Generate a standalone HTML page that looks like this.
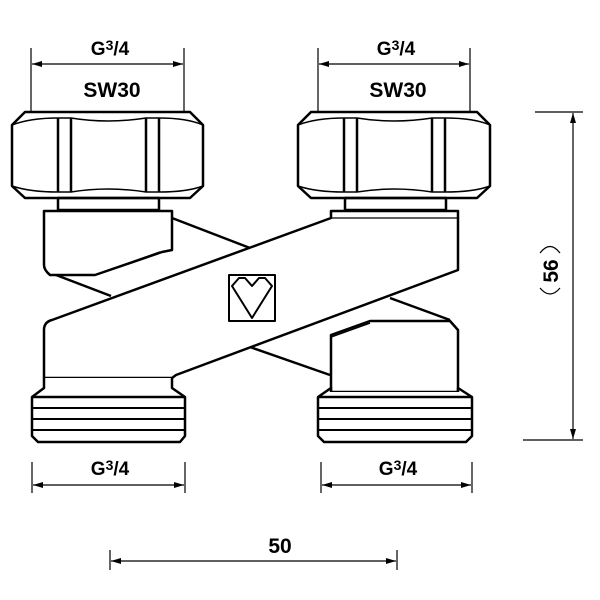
<!DOCTYPE html>
<html><head><style>
html,body{margin:0;padding:0;background:#fff;}
svg{display:block;}
text{font-family:"Liberation Sans",Arial,sans-serif;font-weight:bold;fill:#000;}
</style></head><body>
<svg width="600" height="600" viewBox="0 0 600 600" xmlns="http://www.w3.org/2000/svg">
<defs>
<marker id="a" viewBox="0 0 10 6" refX="10" refY="3" markerWidth="10" markerHeight="6" orient="auto-start-reverse" markerUnits="userSpaceOnUse"><path d="M0,0 L10,3 L0,6 Z" fill="#000"/></marker>
</defs>
<g fill="none" stroke="#000" stroke-width="1.2">
<!-- top dims -->
<line x1="31" y1="48" x2="31" y2="128"/><line x1="184" y1="48" x2="184" y2="128"/>
<line x1="32" y1="64" x2="183" y2="64" marker-start="url(#a)" marker-end="url(#a)"/>
<line x1="318" y1="48" x2="318" y2="128"/><line x1="470" y1="48" x2="470" y2="128"/>
<line x1="319" y1="64" x2="469" y2="64" marker-start="url(#a)" marker-end="url(#a)"/>
<!-- bottom dims -->
<line x1="32" y1="462" x2="32" y2="493"/><line x1="185" y1="462" x2="185" y2="493"/>
<line x1="33" y1="485" x2="184" y2="485" marker-start="url(#a)" marker-end="url(#a)"/>
<line x1="321" y1="462" x2="321" y2="493"/><line x1="472" y1="462" x2="472" y2="493"/>
<line x1="322" y1="485" x2="471" y2="485" marker-start="url(#a)" marker-end="url(#a)"/>
<line x1="110" y1="550" x2="110" y2="570"/><line x1="397" y1="550" x2="397" y2="570"/>
<line x1="111" y1="561" x2="396" y2="561" marker-start="url(#a)" marker-end="url(#a)"/>
<!-- vertical 56 -->
<line x1="535" y1="112" x2="583" y2="112"/><line x1="523" y1="440" x2="583" y2="440"/>
<line x1="573" y1="113" x2="573" y2="439" marker-start="url(#a)" marker-end="url(#a)"/>
<path d="M540,253 Q550,240 560,253" /><path d="M540,288 Q550,300 560,288"/>
</g>
<g fill="none" stroke="#000" stroke-width="2.5" stroke-linejoin="round">
<!-- back band -->
<line x1="172" y1="218" x2="250" y2="248"/>
<line x1="56" y1="275" x2="111" y2="296"/>
<line x1="390" y1="298" x2="450" y2="320"/>
<line x1="250" y1="347" x2="330" y2="375"/>
<!-- left nut -->
<path d="M12,125 L25,112 L190,112 L203,125 L203,186 L190,198 L25,198 L12,186 Z" fill="#fff"/>
<line x1="58" y1="118" x2="58" y2="192"/><line x1="71" y1="118" x2="71" y2="192"/>
<line x1="146" y1="118" x2="146" y2="192"/><line x1="159" y1="118" x2="159" y2="192"/>
<path d="M12,125 Q30,118 58,118 L71,118 Q108,124 146,118 L159,118 Q187,118 203,125" stroke-width="1.5"/>
<path d="M12,186 Q30,192 58,192 L71,192 Q108,186 146,192 L159,192 Q187,192 203,186" stroke-width="1.5"/>
<rect x="58" y="198" width="101" height="12"/>
<!-- left upper body -->
<path d="M44,211 L172,211 L172,250 L162,252 L95,275 L50,275 Q44,270 44,265 Z" fill="#fff"/>
<path d="M95,275 L160,252" stroke-width="1.5"/>
<!-- right nut -->
<path d="M298,125 L311,112 L477,112 L490,125 L490,186 L477,198 L311,198 L298,186 Z" fill="#fff"/>
<line x1="344" y1="118" x2="344" y2="192"/><line x1="357" y1="118" x2="357" y2="192"/>
<line x1="432" y1="118" x2="432" y2="192"/><line x1="445" y1="118" x2="445" y2="192"/>
<path d="M298,125 Q316,118 344,118 L357,118 Q394,124 432,118 L445,118 Q474,118 490,125" stroke-width="1.5"/>
<path d="M298,186 Q316,192 344,192 L357,192 Q394,186 432,192 L445,192 Q474,192 490,186" stroke-width="1.5"/>
<rect x="345" y="198" width="101" height="12"/>
<!-- right lower body -->
<path d="M331,335 L370,321 L450,321 L458,330 L458,392 L331,392 Z" fill="#fff"/>
<line x1="331" y1="337" x2="370" y2="323" stroke-width="1.5"/>
<!-- main band + left lower body + right upper body -->
<path d="M44,378 L44,330 Q44,322 52,320 L331,218 L331,211 L458,211 L458,270 L176,375 L172,378 Z" fill="#fff"/>
<line x1="331" y1="218" x2="458" y2="218" stroke-width="1.2"/>
<line x1="44" y1="378" x2="172" y2="378" stroke-width="1.2"/>
<!-- threads -->
<path d="M44,378 L44,388 L32,397 L32,436 L38,442 L180,442 L185,436 L185,397 L172,388 L172,378" fill="#fff"/>
<line x1="32" y1="397" x2="185" y2="397"/><line x1="32" y1="408" x2="185" y2="408" stroke-width="2"/>
<line x1="32" y1="419" x2="185" y2="419" stroke-width="2"/><line x1="32" y1="430" x2="185" y2="430" stroke-width="2"/>
<path d="M331,392 L331,388 L318,397 L318,436 L324,442 L466,442 L472,436 L472,397 L458,388 L458,392" fill="#fff"/>
<line x1="318" y1="397" x2="472" y2="397"/><line x1="318" y1="408" x2="472" y2="408" stroke-width="2"/>
<line x1="318" y1="419" x2="472" y2="419" stroke-width="2"/><line x1="318" y1="430" x2="472" y2="430" stroke-width="2"/>
<!-- heart box -->
<rect x="229" y="275" width="46" height="46" stroke-width="2"/>
<path d="M232,286 L252,318 L272,286 L265,278 L259,278 L252,286 L245,278 L239,278 Z" stroke-width="2"/>
</g>
<text x="110" y="55" font-size="19" text-anchor="middle">G<tspan font-size="14" dy="-5">3</tspan><tspan dy="5">/4</tspan></text>
<text x="112" y="97" font-size="21" text-anchor="middle">SW30</text>
<text x="396" y="55" font-size="19" text-anchor="middle">G<tspan font-size="14" dy="-5">3</tspan><tspan dy="5">/4</tspan></text>
<text x="398" y="97" font-size="21" text-anchor="middle">SW30</text>
<text x="110" y="475" font-size="19" text-anchor="middle">G<tspan font-size="14" dy="-5">3</tspan><tspan dy="5">/4</tspan></text>
<text x="398" y="475" font-size="19" text-anchor="middle">G<tspan font-size="14" dy="-5">3</tspan><tspan dy="5">/4</tspan></text>
<text x="280" y="553" font-size="21" text-anchor="middle">50</text>
<text x="0" y="0" font-size="21" text-anchor="middle" transform="translate(558,271) rotate(-90)">56</text>
</svg>
</body></html>
